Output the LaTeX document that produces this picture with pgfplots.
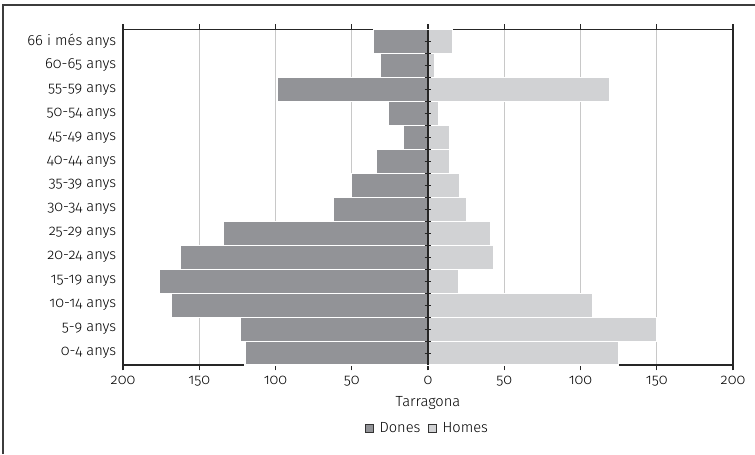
\documentclass[border=0pt]{standalone}
\usepackage{fontspec}
\setmainfont[Numbers=OldStyle]{Fira Sans Light}
\usepackage{pgfplots}
\pgfplotsset{compat=1.18}
\definecolor{dones}{RGB}{146,147,151}
\definecolor{homes}{RGB}{209,210,212}
\definecolor{gridc}{RGB}{200,200,200}
\definecolor{framec}{RGB}{60,60,60}
\begin{document}
\begin{tikzpicture}
\path[use as bounding box] (0,0) rectangle (566.25pt,340.5pt);
\draw[framec,line width=1.2pt] (2.25pt,0) -- (2.25pt,336.75pt) -- (566.25pt,336.75pt);
\begin{axis}[
  at={(92.25pt,66.75pt)}, anchor=south west,
  scale only axis, width=457.5pt, height=251.6pt,
  xmin=-200, xmax=200, ymin=-0.5, ymax=13.5,
  xbar, bar width=1, bar shift=0pt,
  font=\fontsize{11}{13}\selectfont,
  /pgf/number format/assume math mode=true,
  axis line style={black!85, line width=0.8pt},
  xtick={-200,-150,...,200},
  xticklabels={200,150,100,50,0,50,100,150,200},
  xtick style={black!85, line width=0.8pt},
  x tick label style={yshift=-0.5pt},
  tick align=outside,
  major tick length=4pt,
  ytick={0,...,13},
  yticklabels={0-4 anys,5-9 anys,10-14 anys,15-19 anys,20-24 anys,25-29 anys,30-34 anys,35-39 anys,40-44 anys,45-49 anys,50-54 anys,55-59 anys,60-65 anys,66 i més anys},
  ytick style={draw=none},
  y tick label style={xshift=2.5pt},
  xmajorgrids, grid style={gridc, line width=0.7pt},
  xlabel={Tarragona},
  xlabel style={at={(axis description cs:0.5,-0.112)}, anchor=center},
  legend style={at={(0.5,-0.19)}, anchor=center, draw=none, legend columns=2, font=\fontsize{11}{13}\selectfont,
    /tikz/every even column/.append style={column sep=4pt}},
  legend image code/.code={\draw[#1, draw=black!80, line width=0.5pt] (0pt,-2.8pt) rectangle (6pt,3.2pt); \path (8pt,0pt);},
  legend cell align=left,
]
\addplot[fill=dones, draw=white, line width=0.8pt] coordinates {
(-120,0) (-123,1) (-168,2) (-176,3) (-162,4) (-134,5) (-62,6) (-50,7) (-34,8) (-16,9) (-26,10) (-99,11) (-31,12) (-36,13)};
\addlegendentry{Dones}
\addplot[fill=homes, draw=white, line width=0.8pt] coordinates {
(125,0) (150,1) (108,2) (20,3) (43,4) (41,5) (25,6) (21,7) (14,8) (14,9) (7,10) (119,11) (4,12) (16,13)};
\addlegendentry{Homes}
\end{axis}
\begin{axis}[
  at={(92.25pt,66.75pt)}, anchor=south west,
  scale only axis, width=457.5pt, height=251.6pt,
  xmin=-200, xmax=200, ymin=-0.5, ymax=13.5,
  axis x line=none, axis y line=center,
  y axis line style={black!85, line width=0.8pt, -},
  ytick={0,...,13}, yticklabels={},
  minor ytick={0.5,1.5,...,12.5},
  ytick style={black!85, line width=0.6pt},
  major tick length=5pt, minor tick length=5pt,
  tick align=center,
]
\end{axis}
\end{tikzpicture}
\end{document}
